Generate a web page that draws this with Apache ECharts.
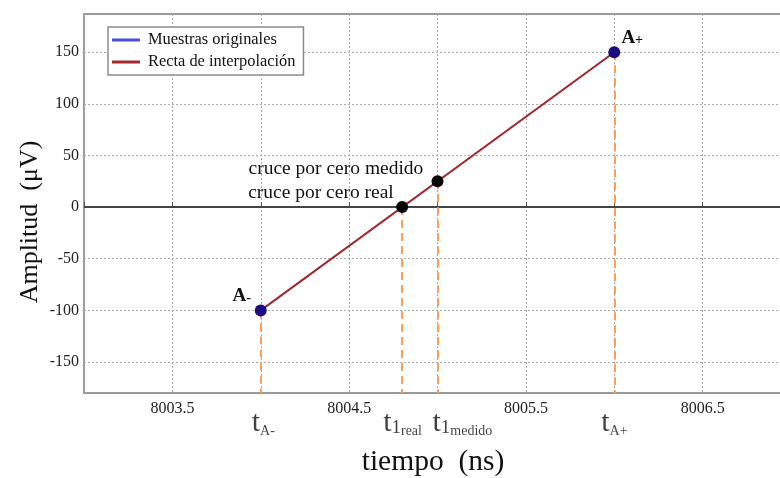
<!DOCTYPE html>
<html>
<head>
<meta charset="utf-8">
<script src="https://cdn.jsdelivr.net/npm/echarts@6/dist/echarts.min.js"></script>
<style>
  html, body { margin: 0; padding: 0; background: #fff; }
  #chart { width: 780px; height: 478px; }
</style>
</head>
<body>
<div id="chart"></div>
<script>
// datos
const muestras = [[8004.0, -100], [8006.0, 150]];
const muestrasNombres = ['A-', 'A+'];
const recta = [[8004.0, -100], [8006.0, 150]];
const cruces = [[8005.0, 25], [8004.8, 0]];
const crucesTexto = ['cruce por cero medido', 'cruce por cero real'];
const tPos = [8004.0, 8004.8, 8005.0, 8006.0];
const tPuntos = [-100, 0, 25, 150];
const tEtiquetas = ['{t|t}{s|A-}', '{t|t}{n|1}{s|real}', '{t|t}{n|1}{s|medido}', '{t|t}{s|A+}'];
const xTicks = [8003.5, 8004.5, 8005.5, 8006.5];
const yTicks = [-150, -100, -50, 0, 50, 100, 150];
const xMin = 8003, xMax = 8007, yMin = -180, yMax = 187;

const serif = 'Liberation Serif';
const chart = echarts.init(document.getElementById('chart'), null, { renderer: 'canvas' });

let option = {
  animation: false,
  backgroundColor: '#fff',
  grid: {
    left: 84,
    top: 14,
    width: 707, // el borde derecho queda fuera de la imagen
    bottom: 85,
    outerBoundsMode: 'none',
    show: true,
    borderColor: '#9a9a9a',
    borderWidth: 2,
  },
  legend: {
    left: 108,
    top: 27,
    orient: 'vertical',
    backgroundColor: '#fff',
    borderColor: '#8c8c8c',
    borderWidth: 1.5,
    borderRadius: 0,
    padding: [4, 8, 4, 4],
    itemGap: 4,
    itemWidth: 28,
    itemHeight: 3,
    icon: 'rect',
    textStyle: { fontFamily: serif, fontSize: 16.4, color: '#111', lineHeight: 18, padding: [0, 0, 0, 3] },
    data: [
      { name: 'Muestras originales', itemStyle: { color: '#4b4de0' } },
      { name: 'Recta de interpolación', itemStyle: { color: '#a3262e' } },
    ],
  },
  xAxis: {
    type: 'value',
    min: xMin,
    max: xMax,
    interval: 0.5,
    axisLine: { show: false },
    axisTick: { show: true, inside: true, length: 5, lineStyle: { color: '#555' } },
    axisLabel: {
      customValues: xTicks,
      fontFamily: serif,
      fontSize: 16,
      color: '#222',
      margin: 8,
      formatter: v => v.toFixed(1),
    },
    splitLine: { show: true, lineStyle: { color: '#aaa', type: [2, 2], width: 1 } },
  },
  yAxis: {
    type: 'value',
    min: yMin,
    max: yMax,
    axisLine: { show: false },
    axisTick: { show: false, customValues: yTicks },
    axisLabel: {
      customValues: yTicks,
      fontFamily: serif,
      fontSize: 16,
      color: '#222',
      margin: 5,
    },
    splitLine: { show: true, lineStyle: { color: '#aaa', type: [2, 2], width: 1 } },
  },
  graphic: [
    {
      type: 'text',
      x: 30, y: 222,
      rotation: Math.PI / 2,
      style: { text: 'Amplitud  (μV)', font: '26px "Liberation Serif"', fill: '#111', align: 'center', verticalAlign: 'middle' },
    },
    {
      type: 'text',
      x: 433, y: 462,
      style: { text: 'tiempo  (ns)', font: '29.5px "Liberation Serif"', fill: '#111', align: 'center', verticalAlign: 'middle' },
    },
  ],
  series: [
    {
      // linea de cero y guias verticales naranjas
      name: 'guias',
      type: 'line',
      data: [],
      silent: true,
      z: 1,
      markLine: {
        symbol: 'none',
        silent: true,
        label: { show: false },
        data: [
          [{ coord: [xMin, 0], lineStyle: { color: '#444', width: 2, type: 'solid' } }, { coord: [xMax, 0] }],
        ].concat(tPos.map((x, i) => [
          { coord: [x, tPuntos[i]], lineStyle: { color: '#f7a05a', width: 2, type: [8, 5] } },
          { coord: [x, yMin] },
        ])),
      },
    },
    {
      name: 'Recta de interpolación',
      type: 'line',
      data: recta,
      symbol: 'none',
      lineStyle: { color: '#a3262e', width: 2 },
      itemStyle: { color: '#a3262e' },
      z: 3,
    },
    {
      name: 'Muestras originales',
      type: 'scatter',
      data: muestras.map((p, i) => ({
        value: p,
        name: muestrasNombres[i],
        label: { offset: i === 0 ? [-19, -14] : [18, -14] },
      })),
      symbolSize: 12,
      itemStyle: { color: '#1c0c80', opacity: 1 },
      z: 5,
      label: {
        show: true,
        position: 'inside',
        formatter: p => p.name === 'A-' ? '{a|A}{s|-}' : '{a|A}{s|+}',
        rich: {
          a: { fontFamily: serif, fontSize: 19, fontWeight: 'bold', color: '#111', verticalAlign: 'bottom' },
          s: { fontFamily: serif, fontSize: 14, fontWeight: 'bold', color: '#111', verticalAlign: 'bottom' },
        },
      },
    },
    {
      name: 'cruces',
      type: 'scatter',
      data: cruces.map((p, i) => ({
        value: p,
        name: crucesTexto[i],
        label: { offset: i === 0 ? [-189, -12] : [-154, -14] },
      })),
      symbolSize: 12,
      itemStyle: { color: '#000', opacity: 1 },
      z: 5,
      label: {
        show: true,
        position: 'inside',
        align: 'left',
        formatter: p => p.name,
        fontFamily: serif,
        fontSize: 19.5,
        color: '#111',
      },
    },
    {
      name: 'etiquetas t',
      type: 'scatter',
      symbolSize: 0,
      silent: true,
      z: 5,
      data: tPos.map((x, i) => ({
        value: [x, yMin],
        label: { offset: [[-9, -19, -5, -13][i], 30] },
        tl: tEtiquetas[i],
      })),
      label: {
        show: true,
        position: 'inside',
        align: 'left',
        formatter: p => p.data.tl,
        rich: {
          t: { fontFamily: serif, fontSize: 30, color: '#111', verticalAlign: 'bottom', lineHeight: 30 },
          n: { fontFamily: serif, fontSize: 19, color: '#111', verticalAlign: 'bottom', lineHeight: 30 },
          s: { fontFamily: serif, fontSize: 14, color: '#111', verticalAlign: 'bottom', lineHeight: 28 },
        },
      },
    },
  ],
};
chart.setOption(option);
</script>
</body>
</html>
